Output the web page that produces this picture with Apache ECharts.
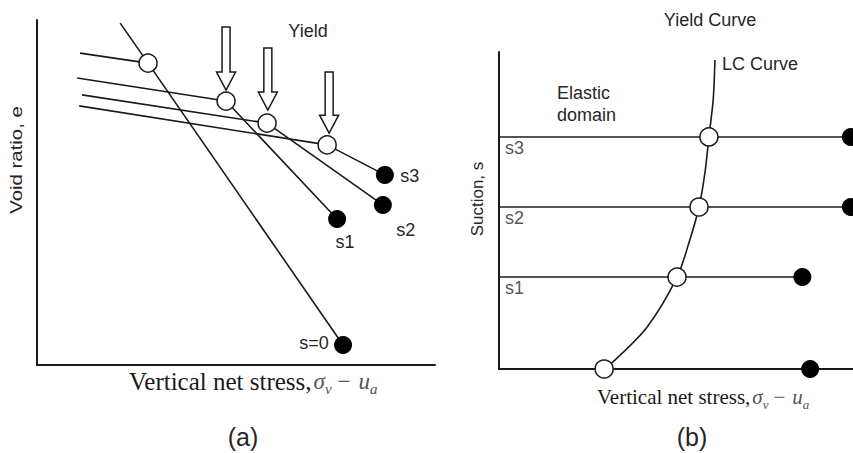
<!DOCTYPE html>
<html>
<head>
<meta charset="utf-8">
<title>Void ratio and LC yield curve</title>
<script src="https://cdn.jsdelivr.net/npm/echarts@6/dist/echarts.min.js"></script>
<style>
  html, body { margin: 0; padding: 0; background: #fff; }
  #chart { width: 853px; height: 453px; }
</style>
</head>
<body>
<div id="chart"></div>
<script>
// ---- Panel (a): void ratio vs vertical net stress (schematic units 0-100) ----
const levelNames   = ['s=0', 's1', 's2', 's3'];
const elasticStart = [[10.8, 90.4], [10.1, 83.2], [11.3, 78.3], [10.6, 75.1]];
const yieldPoints  = [[27.9, 87.5], [47.5, 76.5], [57.8, 70.1], [72.9, 63.8]];
const endPoints    = [[76.9, 5.8], [75.4, 42.3], [86.9, 46.4], [87.4, 55.1]];
const saturatedTop = [20.9, 99.1];
// yield arrows: [x, top of shaft, tip]
const arrowX   = [47.5, 58.0, 73.4];
const arrowTop = [98.0, 91.9, 84.9];
const arrowTip = [79.7, 73.9, 67.2];

// ---- Panel (b): suction vs vertical net stress ----
const suctionNames  = ['', 's1', 's2', 's3'];
const suctionLevels = [0, 29.0, 51.1, 73.2];
const lcYieldX      = [29.7, 50.3, 56.5, 59.3];
const loadEndX      = [87.9, 85.7, 99.4, 99.4];
const lcCurve = [[29.7, 0], [32.2, 2.2], [41.8, 13.2], [50.3, 29.0], [53.9, 40.7],
                 [56.5, 51.1], [58.2, 62.1], [59.3, 73.2], [60.5, 84.9], [61.0, 97.5]];

const INK = '#1a1a1a';
const TXT = '#262626';
const SANS = "'Liberation Sans', Arial, sans-serif";
const SERIF = "'Liberation Serif', 'Times New Roman', serif";

function axis(gridIndex) {
  return {
    type: 'value', gridIndex: gridIndex, min: 0, max: 100,
    axisLine: { show: true, onZero: false, lineStyle: { color: INK, width: 2 } },
    axisTick: { show: false }, axisLabel: { show: false }, splitLine: { show: false }
  };
}

const lineStyle = { color: INK, width: 1.6 };
const series = [];

// panel (a) compression lines
levelNames.forEach(function (name, i) {
  series.push({
    type: 'line', xAxisIndex: 0, yAxisIndex: 0, name: name, z: 2,
    data: [elasticStart[i], yieldPoints[i], endPoints[i]],
    showSymbol: false, lineStyle: lineStyle, silent: true
  });
});
series.push({
  type: 'line', xAxisIndex: 0, yAxisIndex: 0, z: 2,
  data: [saturatedTop, yieldPoints[0]],
  showSymbol: false, lineStyle: lineStyle, silent: true
});
// yield points (open)
series.push({
  type: 'scatter', xAxisIndex: 0, yAxisIndex: 0, z: 3,
  data: yieldPoints, symbolSize: 18,
  itemStyle: { color: '#fff', borderColor: INK, borderWidth: 1.5, opacity: 1 }
});
// end points (filled) with suction labels
const endLabelOffsets = [[-29, -2], [8, 23], [23, 25], [25, 1]];
series.push({
  type: 'scatter', xAxisIndex: 0, yAxisIndex: 0, z: 3,
  data: endPoints.map(function (p, i) {
    return {
      value: p,
      label: { show: true, position: 'inside', offset: endLabelOffsets[i],
               formatter: levelNames[i], color: TXT, fontSize: 18, fontFamily: SANS }
    };
  }),
  symbolSize: 18,
  itemStyle: { color: '#000', opacity: 1 }
});
// hollow yield arrows
series.push({
  type: 'custom', xAxisIndex: 0, yAxisIndex: 0, z: 4,
  data: arrowX.map(function (x, i) { return [x, arrowTop[i], arrowTip[i]]; }),
  encode: { x: 0, y: [1, 2] },
  renderItem: function (params, api) {
    const top = api.coord([api.value(0), api.value(1)]);
    const tip = api.coord([api.value(0), api.value(2)]);
    const cx = top[0], sw = 4, hw = 9.5, hl = 18;
    const hb = tip[1] - hl;
    return {
      type: 'polygon',
      shape: { points: [[cx - sw, top[1]], [cx + sw, top[1]], [cx + sw, hb], [cx + hw, hb],
                        [cx, tip[1]], [cx - hw, hb], [cx - sw, hb]] },
      style: { fill: '#fff', stroke: INK, lineWidth: 1.5 }
    };
  }
});

// panel (b) constant-suction loading paths
suctionLevels.forEach(function (s, i) {
  if (i === 0) return; // s = 0 runs along the stress axis
  series.push({
    type: 'line', xAxisIndex: 1, yAxisIndex: 1, z: 2,
    data: [[0, s], [loadEndX[i], s]],
    showSymbol: false, lineStyle: lineStyle, silent: true
  });
});
// LC curve
series.push({
  type: 'line', xAxisIndex: 1, yAxisIndex: 1, z: 2,
  data: lcCurve, smooth: 0.3, showSymbol: false, lineStyle: lineStyle, silent: true
});
series.push({
  type: 'scatter', xAxisIndex: 1, yAxisIndex: 1, z: 3,
  data: lcYieldX.map(function (x, i) { return [x, suctionLevels[i]]; }),
  symbolSize: 18,
  itemStyle: { color: '#fff', borderColor: INK, borderWidth: 1.5, opacity: 1 }
});
series.push({
  type: 'scatter', xAxisIndex: 1, yAxisIndex: 1, z: 3,
  data: loadEndX.map(function (x, i) { return [x, suctionLevels[i]]; }),
  symbolSize: 18, itemStyle: { color: '#000', opacity: 1 }
});
// suction level labels below each path
series.push({
  type: 'scatter', xAxisIndex: 1, yAxisIndex: 1, z: 3,
  data: suctionLevels.map(function (s, i) { return [0, s]; }).slice(1),
  symbolSize: 0,
  label: {
    show: true, position: 'right', distance: 6, offset: [0, 11],
    formatter: function (p) { return suctionNames[p.dataIndex + 1]; },
    color: TXT, fontSize: 18, fontFamily: SANS
  }
});

function plain(text, x, y, size, extra) {
  return Object.assign({
    type: 'text', x: x, y: y, silent: true,
    style: { text: text, fontSize: size, fontFamily: SANS, fill: TXT,
             align: 'center', verticalAlign: 'middle' }
  }, extra || {});
}

function stressLabel(x, y, size, mathSize, subSize, gap) {
  const L = size + 6;
  const grey = '#555';
  return {
    type: 'text', x: x, y: y, silent: true,
    style: {
      text: '{t|Vertical net stress,}{m|σ}{s|v}{o|−}{m|u}{s|a}',
      align: 'left', verticalAlign: 'middle',
      rich: {
        t: { fontFamily: SERIF, fontSize: size, fill: '#1a1a1a', lineHeight: L },
        m: { fontFamily: SERIF, fontStyle: 'italic', fontSize: mathSize, fill: grey, lineHeight: L,
             padding: [0, 0, 0, 2] },
        s: { fontFamily: SERIF, fontStyle: 'italic', fontSize: subSize, fill: grey,
             verticalAlign: 'bottom', lineHeight: L },
        o: { fontFamily: SERIF, fontSize: mathSize, fill: grey, padding: [0, gap, 0, gap], lineHeight: L }
      }
    }
  };
}

const option = {
  animation: false,
  backgroundColor: '#fff',
  grid: [
    { left: 37, top: 20, width: 398, height: 345 },
    { left: 499, top: 52, width: 354, height: 317 }
  ],
  xAxis: [axis(0), axis(1)],
  yAxis: [axis(0), axis(1)],
  series: series,
  graphic: [
    plain('Yield', 308, 31, 18),
    plain('Void ratio, e', 16, 160, 17, { rotation: Math.PI / 2, scaleX: 1.2 }),
    stressLabel(129, 381, 25, 23, 15, 6),
    plain('(a)', 243, 437, 25),
    plain('Yield Curve', 710, 20, 18),
    plain('LC Curve', 722, 64, 18),
    plain('Elastic', 557, 93, 18),
    plain('domain', 557, 115, 18),
    plain('Suction, s', 477, 199, 17, { rotation: Math.PI / 2 }),
    stressLabel(597, 397, 21, 21, 13, 5),
    plain('(b)', 692, 437, 25)
  ]
};
// left-aligned annotations
['LC Curve', 'Elastic', 'domain'].forEach(function (t) {
  option.graphic.forEach(function (g) { if (g.style.text === t) g.style.align = 'left'; });
});

const chart = echarts.init(document.getElementById('chart'), null, { renderer: 'svg' });
chart.setOption(option);
</script>
</body>
</html>
